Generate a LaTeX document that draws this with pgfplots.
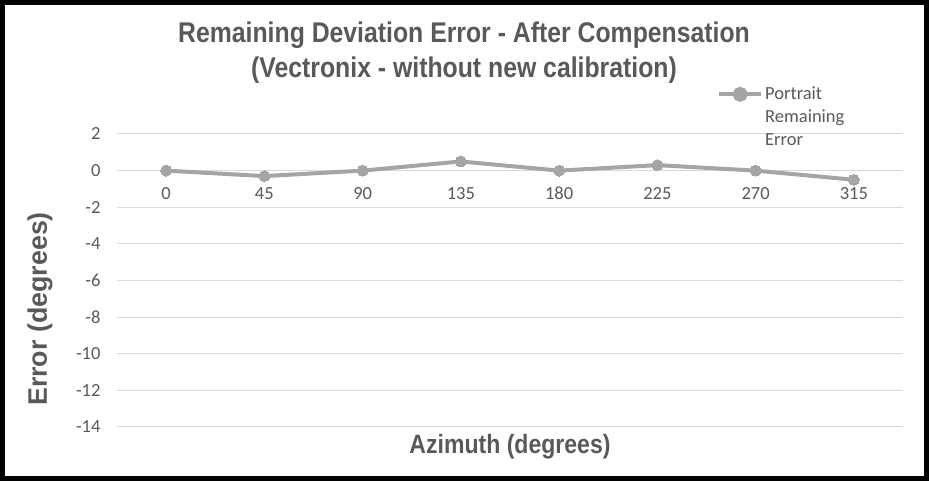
\documentclass[border=0pt]{standalone}
\usepackage{fontspec}
\setmainfont{Carlito}
\newfontfamily\titlefont{Liberation Sans}[FakeStretch=0.87]
\newfontfamily\ylabfont{Liberation Sans}
\usepackage{pgfplots}
\pgfplotsset{compat=1.18}
\definecolor{txt}{HTML}{595959}
\definecolor{gridc}{HTML}{D9D9D9}
\definecolor{ser}{HTML}{A5A5A5}
\begin{document}
\begin{tikzpicture}[x=1pt,y=1pt]
\begin{axis}[
 scale only axis, width=786pt, height=293pt,
 at={(117pt,54pt)}, anchor=south west,
 xmin=-0.5, xmax=7.5, ymin=-14, ymax=2,
 axis x line=middle, axis y line=left,
 axis line style={draw=none},
 xtick={0,...,7}, xticklabels={0,45,90,135,180,225,270,315},
 ytick={-14,-12,...,2},
 major tick length=0pt,
 /pgf/number format/assume math mode=true,
 ymajorgrids, grid style={gridc, line width=1pt},
 ticklabel style={font=\fontsize{18.5}{22}\selectfont, text=txt},
 xticklabel style={anchor=base, yshift=-29pt},
 yticklabel style={anchor=east, xshift=-13pt},
 title={Remaining Deviation Error - After Compensation\\(Vectronix - without new calibration)},
 every axis title/.style={at={(axis description cs:0.4415,1.277)}, anchor=center, align=center, font=\titlefont\bfseries\fontsize{28.5}{35}\selectfont, text=txt},
 xlabel={Azimuth (degrees)},
 every axis x label/.style={at={(axis description cs:0.5,-0.068)}, anchor=center, font=\titlefont\bfseries\fontsize{26.5}{30}\selectfont, text=txt},
 ylabel={Error (degrees)},
 every axis y label/.style={at={(axis description cs:-0.098,0.403)}, anchor=center, rotate=90, font=\ylabfont\bfseries\fontsize{26.8}{30}\selectfont, text=txt},
 legend style={at={(axis description cs:0.7595,1.174)}, anchor=north west, draw=none, fill=none, font=\fontsize{18.5}{23}\selectfont, text=txt, cells={align=left}},
 legend image code/.code={\draw[ser, line width=4pt] (0pt,23pt) -- (42pt,23pt); \fill[ser] (21pt,23pt) circle (5.5pt);},
]
\addplot[ser, line width=4pt, mark=*, mark size=5.5pt, mark options={fill=ser, draw=ser, line width=0pt}] coordinates {(0,0) (1,-0.3) (2,0) (3,0.5) (4,0) (5,0.3) (6,0) (7,-0.5)};
\addlegendentry{Portrait\\Remaining\\Error}
\end{axis}
\draw[line width=5pt] (2.5,2.5) rectangle (926.5,478.5);
\pgfresetboundingbox
\useasboundingbox (0,0) rectangle (929,481);
\end{tikzpicture}
\end{document}
